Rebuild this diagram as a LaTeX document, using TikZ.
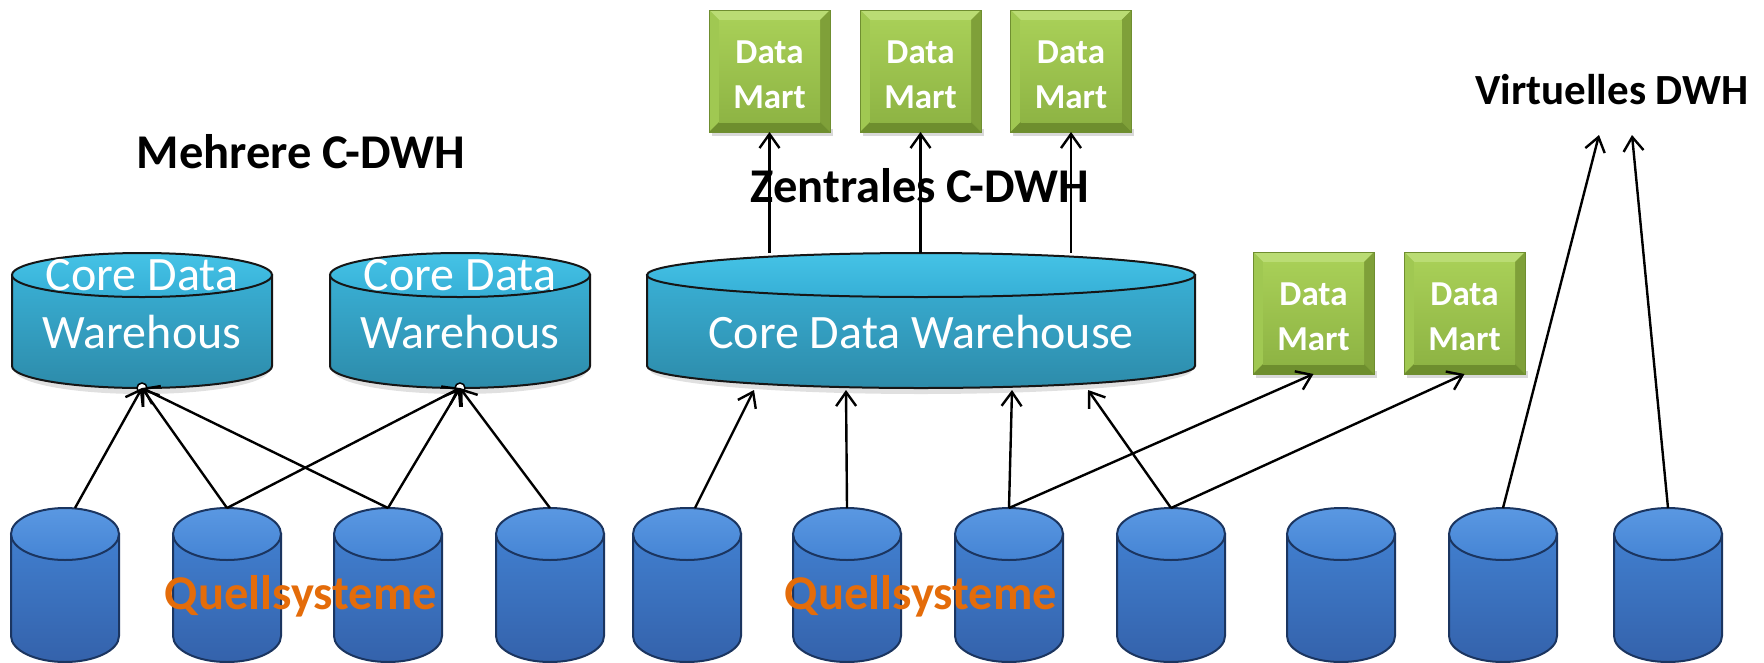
\documentclass[tikz,border=0pt]{standalone}
\usepackage{fontspec}
\setmainfont{Carlito}
\usetikzlibrary{arrows.meta,calc}
\definecolor{srcCT}{HTML}{5A98E2}
\definecolor{srcCB}{HTML}{4584D4}
\definecolor{srcBT}{HTML}{417FCF}
\definecolor{srcBB}{HTML}{3462AB}
\definecolor{srcEdge}{HTML}{1B3560}
\definecolor{cdwCT}{HTML}{45C3E6}
\definecolor{cdwCB}{HTML}{36AFD6}
\definecolor{cdwBT}{HTML}{39AFD4}
\definecolor{cdwBB}{HTML}{2D8BAA}
\definecolor{cdwEdge}{HTML}{161616}
\definecolor{dmTop}{HTML}{A8CF57}
\definecolor{dmBot}{HTML}{8EB444}
\definecolor{dmBevT}{HTML}{BADC74}
\definecolor{dmBevL}{HTML}{A0C852}
\definecolor{dmBevR}{HTML}{7FA039}
\definecolor{dmBevB}{HTML}{6E8E2E}
\definecolor{dmEdge}{HTML}{6F8E30}
\definecolor{qorange}{HTML}{E46C0A}
\newcommand\ttlfont{\fontsize{48.5}{58}\selectfont\bfseries}
\newcommand\vdfont{\fontsize{43}{52}\selectfont\bfseries}
\newcommand\cdwfont{\fontsize{48}{58}\selectfont}
\newcommand\dmfont{\fontsize{35}{45}\selectfont\bfseries}
\newcommand\srcdb[2]{%
  \path[top color=srcBT, bottom color=srcBB, draw=srcEdge, line width=2pt]
    (#2-54,-534) -- (#2-54,-636) arc[start angle=180,end angle=360,x radius=54,y radius=26] -- (#2+54,-534) -- cycle;
  \path[top color=srcCT, bottom color=srcCB, draw=srcEdge, line width=2pt]
    (#2,-534) ellipse[x radius=54,y radius=26];
  \node[hold, minimum width=108pt, minimum height=154pt] (#1) at (#2,-585) {};
}
\newcommand\cdwdb[4]{% name, cx, rx, width
  \fill[black, opacity=0.12] (#2-#3+3,-300) -- (#2-#3+3,-370) arc[start angle=180,end angle=360,x radius=#3-3,y radius=24] -- (#2+#3-3,-300) -- cycle;
  \path[top color=cdwBT, bottom color=cdwBB, draw=cdwEdge, line width=2pt]
    (#2-#3,-275) -- (#2-#3,-366) arc[start angle=180,end angle=360,x radius=#3,y radius=22] -- (#2+#3,-275) -- cycle;
  \path[top color=cdwCT, bottom color=cdwCB, draw=cdwEdge, line width=2pt]
    (#2,-275) ellipse[x radius=#3,y radius=22];
  \node[hold, minimum width=#4, minimum height=135pt] (#1) at (#2,-320.5) {};
}
\tikzset{
  hold/.style={rectangle, inner sep=0pt, outer sep=0pt},
  arr/.style={-{Straight Barb[length=14pt,width=20pt]}, line width=2.4pt, black},
  dmbox/.style={rectangle, minimum width=121pt, minimum height=122pt, inner sep=0pt, outer sep=0pt,
    text=white, font=\dmfont, align=center, fill=dmTop, draw=dmEdge, line width=0.8pt,
    path picture={
      \fill[dmBevT] (path picture bounding box.north west) -- (path picture bounding box.north east)
        -- ([shift={(-10pt,-10pt)}]path picture bounding box.north east) -- ([shift={(10pt,-10pt)}]path picture bounding box.north west) -- cycle;
      \fill[dmBevL] (path picture bounding box.north west) -- (path picture bounding box.south west)
        -- ([shift={(10pt,10pt)}]path picture bounding box.south west) -- ([shift={(10pt,-10pt)}]path picture bounding box.north west) -- cycle;
      \fill[dmBevR] (path picture bounding box.north east) -- (path picture bounding box.south east)
        -- ([shift={(-10pt,10pt)}]path picture bounding box.south east) -- ([shift={(-10pt,-10pt)}]path picture bounding box.north east) -- cycle;
      \fill[dmBevB] (path picture bounding box.south west) -- (path picture bounding box.south east)
        -- ([shift={(-10pt,10pt)}]path picture bounding box.south east) -- ([shift={(10pt,10pt)}]path picture bounding box.south west) -- cycle;
      \shade[top color=dmTop, bottom color=dmBot] ([shift={(10pt,-10pt)}]path picture bounding box.north west) rectangle ([shift={(-10pt,10pt)}]path picture bounding box.south east);
    }},
  dmshadow/.style={fill=black, opacity=0.15},
  quell/.style={anchor=base, text=qorange, font=\ttlfont},
  ttl/.style={anchor=base, text=black, font=\ttlfont},
  cdwtxt/.style={anchor=base, text=white, font=\cdwfont}
}
\newcommand\dmtext{\rule{0pt}{30pt}Data\\Mart}
\begin{document}
\begin{tikzpicture}[x=1pt,y=1pt]
\useasboundingbox (0,0) rectangle (1764,-662);
\fill[white] (0,0) rectangle (1764,-662);
\clip (0,0) rectangle (1764,-662);

% source systems
\srcdb{s1}{65}
\srcdb{s2}{227}
\srcdb{s3}{388}
\srcdb{s4}{550}
\srcdb{s5}{687}
\srcdb{s6}{847}
\srcdb{s7}{1009}
\srcdb{s8}{1171}
\srcdb{s9}{1341}
\srcdb{s10}{1503}
\srcdb{s11}{1668}

% core data warehouses
\cdwdb{cdwL}{142}{130}{260pt}
\cdwdb{cdwM}{460}{130}{260pt}
\cdwdb{cdwC}{921}{274}{548pt}

% data marts
\foreach \x/\y in {769.5/-71, 920.5/-71, 1071/-71, 1313.5/-313, 1464.5/-313}
  \fill[dmshadow] (\x-58,\y-58) rectangle (\x+63,\y-65);
\node[dmbox] (dm1) at (769.5,-71) {\dmtext};
\node[dmbox] (dm2) at (920.5,-71) {\dmtext};
\node[dmbox] (dm3) at (1071,-71) {\dmtext};
\node[dmbox] (dm4) at (1313.5,-313) {\dmtext};
\node[dmbox] (dm5) at (1464.5,-313) {\dmtext};

% texts on warehouses
\node[cdwtxt] (tL1) at (142,-290) {Core Data};
\node[cdwtxt] (tL2) at (142,-348) {Warehous};
\node[cdwtxt] (tM1) at (460,-290) {Core Data};
\node[cdwtxt] (tM2) at (460,-348) {Warehous};
\node[cdwtxt] (tC) at (921,-348) {Core Data Warehouse};

% glue points
\filldraw[fill=white, draw=black, line width=1.5pt] (cdwL.south) circle[radius=5pt];
\filldraw[fill=white, draw=black, line width=1.5pt] (cdwM.south) circle[radius=5pt];

% free ends for virtual DWH
\coordinate (v1) at (1599,-135);
\coordinate (v2) at (1632,-135);

% arrows: multiple C-DWH
\draw[arr] ([xshift=10pt]s1.north) -- (cdwL.south);
\draw[arr] (s2.north) -- (cdwL.south);
\draw[arr] (s2.north) -- (cdwM.south);
\draw[arr] (s3.north) -- (cdwL.south);
\draw[arr] (s3.north) -- (cdwM.south);
\draw[arr] (s4.north) -- (cdwM.south);

% arrows: central C-DWH
\draw[arr] ([xshift=8pt]s5.north) -- ([xshift=-167pt,yshift=-2pt]cdwC.south);
\draw[arr] (s6.north) -- ([xshift=-75pt,yshift=-2pt]cdwC.south);
\draw[arr] (s7.north) -- ([xshift=91pt,yshift=-2pt]cdwC.south);
\draw[arr] (s7.north) -- (dm4.south);
\draw[arr] (s8.north) -- ([xshift=167pt,yshift=-2pt]cdwC.south);
\draw[arr] (s8.north) -- (dm5.south);
\draw[arr] (dm1.south |- cdwC.north) -- (dm1.south);
\draw[arr] (dm2.south |- cdwC.north) -- (dm2.south);
\draw[arr] (dm3.south |- cdwC.north) -- (dm3.south);

% arrows: virtual DWH
\draw[arr] (s10.north) -- (v1);
\draw[arr] (s11.north) -- (v2);

% titles
\node[ttl] (tMehr) at (301,-168) {Mehrere C-DWH};
\node[ttl] (tZent) at (920,-202) {Zentrales C-DWH};
\node[anchor=base, font=\vdfont] (tVirt) at (1612,-104) {Virtuelles DWH};
\node[quell] (q1) at (301,-609) {Quellsysteme};
\node[quell] (q2) at (921,-609) {Quellsysteme};
\end{tikzpicture}
\end{document}
